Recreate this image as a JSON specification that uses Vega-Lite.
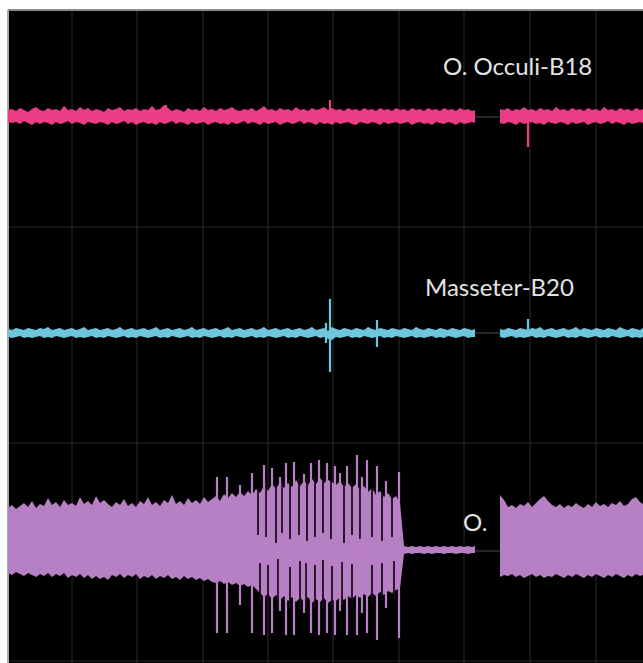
{
  "$schema": "https://vega.github.io/schema/vega-lite/v6.json",
  "width": 635,
  "height": 653,
  "autosize": {"type": "none"},
  "padding": {"left": 8, "top": 10, "right": 0, "bottom": 0},
  "background": "white",
  "config": {
    "view": {"fill": "black", "stroke": null}
  },
  "datasets": {
    "sig": [
      {"t":0,"seg":1,"ph":553,"pl":541,"bh":334,"bl":326,"oh":155,"ol":90},
      {"t":4,"seg":1,"ph":554,"pl":540,"bh":333,"bl":325,"oh":158,"ol":88},
      {"t":8,"seg":1,"ph":552,"pl":541,"bh":335,"bl":326,"oh":154,"ol":91},
      {"t":12,"seg":1,"ph":555,"pl":539,"bh":334,"bl":327,"oh":157,"ol":89},
      {"t":16,"seg":1,"ph":553,"pl":542,"bh":333,"bl":325,"oh":160,"ol":87},
      {"t":20,"seg":1,"ph":551,"pl":540,"bh":335,"bl":326,"oh":156,"ol":90},
      {"t":24,"seg":1,"ph":554,"pl":538,"bh":334,"bl":325,"oh":162,"ol":88},
      {"t":28,"seg":1,"ph":556,"pl":541,"bh":333,"bl":326,"oh":155,"ol":86},
      {"t":32,"seg":1,"ph":553,"pl":539,"bh":335,"bl":327,"oh":159,"ol":89},
      {"t":36,"seg":1,"ph":552,"pl":541,"bh":334,"bl":325,"oh":157,"ol":87},
      {"t":40,"seg":1,"ph":555,"pl":540,"bh":336,"bl":326,"oh":165,"ol":90},
      {"t":44,"seg":1,"ph":553,"pl":538,"bh":333,"bl":325,"oh":158,"ol":86},
      {"t":48,"seg":1,"ph":554,"pl":541,"bh":334,"bl":327,"oh":161,"ol":89},
      {"t":52,"seg":1,"ph":552,"pl":539,"bh":335,"bl":326,"oh":156,"ol":87},
      {"t":56,"seg":1,"ph":557,"pl":540,"bh":333,"bl":325,"oh":163,"ol":90},
      {"t":60,"seg":1,"ph":553,"pl":542,"bh":334,"bl":326,"oh":158,"ol":85},
      {"t":64,"seg":1,"ph":554,"pl":539,"bh":335,"bl":327,"oh":160,"ol":88},
      {"t":68,"seg":1,"ph":552,"pl":541,"bh":333,"bl":325,"oh":157,"ol":86},
      {"t":72,"seg":1,"ph":556,"pl":540,"bh":334,"bl":326,"oh":166,"ol":89},
      {"t":76,"seg":1,"ph":553,"pl":538,"bh":336,"bl":325,"oh":159,"ol":85},
      {"t":80,"seg":1,"ph":555,"pl":541,"bh":333,"bl":326,"oh":162,"ol":88},
      {"t":84,"seg":1,"ph":552,"pl":540,"bh":334,"bl":327,"oh":158,"ol":84},
      {"t":88,"seg":1,"ph":554,"pl":539,"bh":335,"bl":325,"oh":167,"ol":87},
      {"t":92,"seg":1,"ph":553,"pl":541,"bh":333,"bl":326,"oh":160,"ol":84},
      {"t":96,"seg":1,"ph":551,"pl":540,"bh":334,"bl":325,"oh":163,"ol":86},
      {"t":100,"seg":1,"ph":555,"pl":538,"bh":335,"bl":327,"oh":159,"ol":83},
      {"t":104,"seg":1,"ph":553,"pl":541,"bh":333,"bl":326,"oh":156,"ol":88},
      {"t":108,"seg":1,"ph":554,"pl":539,"bh":334,"bl":325,"oh":161,"ol":86},
      {"t":112,"seg":1,"ph":556,"pl":540,"bh":336,"bl":326,"oh":158,"ol":89},
      {"t":116,"seg":1,"ph":552,"pl":542,"bh":333,"bl":327,"oh":164,"ol":85},
      {"t":120,"seg":1,"ph":554,"pl":539,"bh":334,"bl":325,"oh":157,"ol":88},
      {"t":124,"seg":1,"ph":553,"pl":541,"bh":335,"bl":326,"oh":160,"ol":86},
      {"t":128,"seg":1,"ph":555,"pl":538,"bh":333,"bl":325,"oh":156,"ol":89},
      {"t":132,"seg":1,"ph":552,"pl":540,"bh":334,"bl":327,"oh":162,"ol":84},
      {"t":136,"seg":1,"ph":554,"pl":541,"bh":335,"bl":326,"oh":159,"ol":87},
      {"t":140,"seg":1,"ph":553,"pl":539,"bh":333,"bl":325,"oh":166,"ol":85},
      {"t":144,"seg":1,"ph":557,"pl":540,"bh":334,"bl":326,"oh":158,"ol":88},
      {"t":148,"seg":1,"ph":553,"pl":538,"bh":336,"bl":327,"oh":161,"ol":84},
      {"t":152,"seg":1,"ph":554,"pl":541,"bh":333,"bl":325,"oh":157,"ol":87},
      {"t":156,"seg":1,"ph":558,"pl":539,"bh":334,"bl":326,"oh":163,"ol":85},
      {"t":160,"seg":1,"ph":555,"pl":540,"bh":335,"bl":325,"oh":160,"ol":88},
      {"t":164,"seg":1,"ph":552,"pl":542,"bh":333,"bl":327,"oh":168,"ol":84},
      {"t":168,"seg":1,"ph":554,"pl":539,"bh":334,"bl":326,"oh":159,"ol":86},
      {"t":172,"seg":1,"ph":553,"pl":541,"bh":335,"bl":325,"oh":162,"ol":83},
      {"t":176,"seg":1,"ph":551,"pl":540,"bh":333,"bl":326,"oh":158,"ol":87},
      {"t":180,"seg":1,"ph":555,"pl":538,"bh":334,"bl":327,"oh":165,"ol":84},
      {"t":184,"seg":1,"ph":553,"pl":541,"bh":336,"bl":325,"oh":160,"ol":86},
      {"t":188,"seg":1,"ph":554,"pl":539,"bh":333,"bl":326,"oh":163,"ol":83},
      {"t":192,"seg":1,"ph":552,"pl":540,"bh":334,"bl":325,"oh":159,"ol":85},
      {"t":196,"seg":1,"ph":556,"pl":541,"bh":335,"bl":327,"oh":166,"ol":82},
      {"t":200,"seg":1,"ph":553,"pl":538,"bh":333,"bl":326,"oh":161,"ol":84},
      {"t":204,"seg":1,"ph":554,"pl":540,"bh":334,"bl":325,"oh":164,"ol":81},
      {"t":208,"seg":1,"ph":552,"pl":541,"bh":335,"bl":326,"oh":167,"ol":80},
      {"t":212,"seg":1,"ph":555,"pl":539,"bh":333,"bl":327,"oh":162,"ol":82},
      {"t":216,"seg":1,"ph":553,"pl":540,"bh":334,"bl":325,"oh":169,"ol":79},
      {"t":220,"seg":1,"ph":554,"pl":538,"bh":336,"bl":326,"oh":165,"ol":81},
      {"t":224,"seg":1,"ph":556,"pl":541,"bh":333,"bl":325,"oh":170,"ol":78},
      {"t":228,"seg":1,"ph":553,"pl":539,"bh":334,"bl":327,"oh":166,"ol":80},
      {"t":232,"seg":1,"ph":552,"pl":540,"bh":335,"bl":326,"oh":171,"ol":77},
      {"t":236,"seg":1,"ph":554,"pl":542,"bh":333,"bl":325,"oh":167,"ol":79},
      {"t":240,"seg":1,"ph":553,"pl":539,"bh":334,"bl":326,"oh":172,"ol":76},
      {"t":244,"seg":1,"ph":555,"pl":541,"bh":335,"bl":327,"oh":168,"ol":78},
      {"t":248,"seg":1,"ph":552,"pl":540,"bh":333,"bl":325,"oh":174,"ol":74},
      {"t":252,"seg":1,"ph":554,"pl":538,"bh":334,"bl":326,"oh":170,"ol":70},
      {"t":256,"seg":1,"ph":557,"pl":541,"bh":336,"bl":325,"oh":177,"ol":66},
      {"t":260,"seg":1,"ph":553,"pl":539,"bh":333,"bl":327,"oh":172,"ol":69},
      {"t":264,"seg":1,"ph":554,"pl":540,"bh":334,"bl":326,"oh":179,"ol":64},
      {"t":268,"seg":1,"ph":552,"pl":541,"bh":335,"bl":325,"oh":174,"ol":68},
      {"t":272,"seg":1,"ph":555,"pl":538,"bh":333,"bl":326,"oh":181,"ol":63},
      {"t":276,"seg":1,"ph":553,"pl":540,"bh":334,"bl":327,"oh":175,"ol":67},
      {"t":280,"seg":1,"ph":554,"pl":541,"bh":335,"bl":325,"oh":180,"ol":62},
      {"t":284,"seg":1,"ph":552,"pl":539,"bh":333,"bl":326,"oh":176,"ol":66},
      {"t":288,"seg":1,"ph":556,"pl":540,"bh":334,"bl":325,"oh":183,"ol":61},
      {"t":292,"seg":1,"ph":553,"pl":542,"bh":335,"bl":327,"oh":177,"ol":65},
      {"t":296,"seg":1,"ph":554,"pl":539,"bh":333,"bl":326,"oh":182,"ol":62},
      {"t":300,"seg":1,"ph":552,"pl":541,"bh":334,"bl":325,"oh":178,"ol":66},
      {"t":304,"seg":1,"ph":555,"pl":540,"bh":336,"bl":326,"oh":184,"ol":60},
      {"t":308,"seg":1,"ph":553,"pl":538,"bh":333,"bl":327,"oh":179,"ol":64},
      {"t":312,"seg":1,"ph":554,"pl":541,"bh":334,"bl":325,"oh":185,"ol":61},
      {"t":316,"seg":1,"ph":556,"pl":539,"bh":335,"bl":326,"oh":180,"ol":65},
      {"t":320,"seg":1,"ph":553,"pl":540,"bh":332,"bl":324,"oh":183,"ol":60},
      {"t":324,"seg":1,"ph":555,"pl":538,"bh":336,"bl":323,"oh":181,"ol":63},
      {"t":328,"seg":1,"ph":553,"pl":541,"bh":334,"bl":326,"oh":178,"ol":62},
      {"t":332,"seg":1,"ph":554,"pl":539,"bh":333,"bl":325,"oh":182,"ol":66},
      {"t":336,"seg":1,"ph":552,"pl":540,"bh":335,"bl":326,"oh":176,"ol":63},
      {"t":340,"seg":1,"ph":555,"pl":541,"bh":334,"bl":327,"oh":180,"ol":67},
      {"t":344,"seg":1,"ph":553,"pl":539,"bh":333,"bl":325,"oh":175,"ol":64},
      {"t":348,"seg":1,"ph":554,"pl":538,"bh":335,"bl":326,"oh":179,"ol":68},
      {"t":352,"seg":1,"ph":552,"pl":541,"bh":334,"bl":325,"oh":173,"ol":65},
      {"t":356,"seg":1,"ph":555,"pl":540,"bh":333,"bl":327,"oh":177,"ol":69},
      {"t":360,"seg":1,"ph":553,"pl":539,"bh":336,"bl":326,"oh":171,"ol":66},
      {"t":364,"seg":1,"ph":554,"pl":541,"bh":334,"bl":325,"oh":175,"ol":70},
      {"t":368,"seg":1,"ph":552,"pl":540,"bh":333,"bl":326,"oh":168,"ol":67},
      {"t":372,"seg":1,"ph":555,"pl":538,"bh":335,"bl":327,"oh":172,"ol":71},
      {"t":376,"seg":1,"ph":553,"pl":541,"bh":334,"bl":325,"oh":166,"ol":68},
      {"t":380,"seg":1,"ph":554,"pl":539,"bh":333,"bl":326,"oh":170,"ol":72},
      {"t":384,"seg":1,"ph":552,"pl":540,"bh":335,"bl":325,"oh":164,"ol":70},
      {"t":388,"seg":1,"ph":555,"pl":541,"bh":334,"bl":327,"oh":167,"ol":73},
      {"t":392,"seg":1,"ph":553,"pl":539,"bh":333,"bl":326,"oh":160,"ol":75},
      {"t":396,"seg":1,"ph":554,"pl":540,"bh":335,"bl":325,"oh":117,"ol":109},
      {"t":400,"seg":1,"ph":552,"pl":541,"bh":334,"bl":326,"oh":116,"ol":110},
      {"t":404,"seg":1,"ph":555,"pl":538,"bh":333,"bl":327,"oh":117,"ol":109},
      {"t":408,"seg":1,"ph":553,"pl":540,"bh":336,"bl":325,"oh":116,"ol":110},
      {"t":412,"seg":1,"ph":554,"pl":541,"bh":334,"bl":326,"oh":117,"ol":110},
      {"t":416,"seg":1,"ph":552,"pl":539,"bh":333,"bl":325,"oh":116,"ol":109},
      {"t":420,"seg":1,"ph":555,"pl":540,"bh":335,"bl":326,"oh":117,"ol":110},
      {"t":424,"seg":1,"ph":553,"pl":538,"bh":334,"bl":327,"oh":116,"ol":109},
      {"t":428,"seg":1,"ph":554,"pl":541,"bh":333,"bl":325,"oh":117,"ol":110},
      {"t":432,"seg":1,"ph":552,"pl":540,"bh":335,"bl":326,"oh":116,"ol":110},
      {"t":436,"seg":1,"ph":555,"pl":539,"bh":334,"bl":325,"oh":117,"ol":109},
      {"t":440,"seg":1,"ph":553,"pl":541,"bh":333,"bl":327,"oh":116,"ol":110},
      {"t":444,"seg":1,"ph":554,"pl":540,"bh":335,"bl":326,"oh":117,"ol":110},
      {"t":448,"seg":1,"ph":552,"pl":538,"bh":334,"bl":325,"oh":116,"ol":109},
      {"t":452,"seg":1,"ph":555,"pl":541,"bh":333,"bl":326,"oh":117,"ol":110},
      {"t":456,"seg":1,"ph":553,"pl":539,"bh":335,"bl":327,"oh":116,"ol":110},
      {"t":460,"seg":1,"ph":554,"pl":540,"bh":334,"bl":325,"oh":117,"ol":109},
      {"t":464,"seg":1,"ph":552,"pl":541,"bh":333,"bl":326,"oh":116,"ol":110},
      {"t":467,"seg":1,"ph":553,"pl":540,"bh":334,"bl":326,"oh":117,"ol":110},
      {"t":492,"seg":2,"ph":554,"pl":540,"bh":334,"bl":326,"oh":168,"ol":86},
      {"t":496,"seg":2,"ph":553,"pl":539,"bh":333,"bl":325,"oh":163,"ol":88},
      {"t":500,"seg":2,"ph":555,"pl":541,"bh":335,"bl":326,"oh":156,"ol":87},
      {"t":504,"seg":2,"ph":552,"pl":540,"bh":334,"bl":327,"oh":158,"ol":89},
      {"t":508,"seg":2,"ph":554,"pl":538,"bh":333,"bl":325,"oh":155,"ol":86},
      {"t":512,"seg":2,"ph":553,"pl":541,"bh":335,"bl":326,"oh":159,"ol":88},
      {"t":516,"seg":2,"ph":556,"pl":539,"bh":334,"bl":325,"oh":157,"ol":85},
      {"t":520,"seg":2,"ph":553,"pl":540,"bh":333,"bl":326,"oh":161,"ol":87},
      {"t":524,"seg":2,"ph":554,"pl":541,"bh":335,"bl":327,"oh":156,"ol":89},
      {"t":528,"seg":2,"ph":552,"pl":539,"bh":334,"bl":325,"oh":160,"ol":86},
      {"t":532,"seg":2,"ph":555,"pl":540,"bh":336,"bl":326,"oh":164,"ol":88},
      {"t":536,"seg":2,"ph":553,"pl":538,"bh":333,"bl":325,"oh":167,"ol":85},
      {"t":540,"seg":2,"ph":554,"pl":541,"bh":334,"bl":327,"oh":162,"ol":87},
      {"t":544,"seg":2,"ph":552,"pl":540,"bh":335,"bl":326,"oh":158,"ol":86},
      {"t":548,"seg":2,"ph":556,"pl":539,"bh":333,"bl":325,"oh":156,"ol":89},
      {"t":552,"seg":2,"ph":553,"pl":541,"bh":334,"bl":326,"oh":159,"ol":87},
      {"t":556,"seg":2,"ph":554,"pl":540,"bh":335,"bl":327,"oh":155,"ol":85},
      {"t":560,"seg":2,"ph":552,"pl":538,"bh":333,"bl":325,"oh":158,"ol":88},
      {"t":564,"seg":2,"ph":555,"pl":541,"bh":334,"bl":326,"oh":156,"ol":86},
      {"t":568,"seg":2,"ph":553,"pl":539,"bh":336,"bl":325,"oh":160,"ol":89},
      {"t":572,"seg":2,"ph":554,"pl":540,"bh":333,"bl":327,"oh":157,"ol":87},
      {"t":576,"seg":2,"ph":552,"pl":541,"bh":335,"bl":326,"oh":155,"ol":85},
      {"t":580,"seg":2,"ph":555,"pl":538,"bh":334,"bl":325,"oh":159,"ol":88},
      {"t":584,"seg":2,"ph":553,"pl":540,"bh":333,"bl":326,"oh":156,"ol":86},
      {"t":588,"seg":2,"ph":554,"pl":541,"bh":335,"bl":327,"oh":161,"ol":89},
      {"t":592,"seg":2,"ph":552,"pl":539,"bh":334,"bl":325,"oh":157,"ol":87},
      {"t":596,"seg":2,"ph":556,"pl":540,"bh":333,"bl":326,"oh":159,"ol":85},
      {"t":600,"seg":2,"ph":553,"pl":542,"bh":335,"bl":325,"oh":156,"ol":88},
      {"t":604,"seg":2,"ph":554,"pl":539,"bh":334,"bl":327,"oh":160,"ol":86},
      {"t":608,"seg":2,"ph":552,"pl":541,"bh":333,"bl":326,"oh":158,"ol":89},
      {"t":612,"seg":2,"ph":555,"pl":540,"bh":336,"bl":325,"oh":162,"ol":87},
      {"t":616,"seg":2,"ph":553,"pl":538,"bh":334,"bl":326,"oh":157,"ol":85},
      {"t":620,"seg":2,"ph":554,"pl":541,"bh":333,"bl":327,"oh":159,"ol":88},
      {"t":624,"seg":2,"ph":552,"pl":539,"bh":335,"bl":325,"oh":164,"ol":86},
      {"t":628,"seg":2,"ph":555,"pl":540,"bh":334,"bl":326,"oh":166,"ol":89},
      {"t":632,"seg":2,"ph":553,"pl":541,"bh":333,"bl":325,"oh":161,"ol":87},
      {"t":635,"seg":2,"ph":554,"pl":540,"bh":335,"bl":326,"oh":159,"ol":88}
    ],
    "holes": [
      {"t":250,"hi":176,"lo":128},{"t":258,"hi":180,"lo":126},{"t":268,"hi":178,"lo":120},{"t":274,"hi":182,"lo":130},{"t":282,"hi":184,"lo":124},{"t":291,"hi":186,"lo":128},{"t":299,"hi":185,"lo":122},{"t":307,"hi":187,"lo":126},{"t":315,"hi":186,"lo":130},{"t":323,"hi":184,"lo":124},{"t":336,"hi":182,"lo":120},{"t":344,"hi":180,"lo":128},{"t":352,"hi":178,"lo":124},{"t":364,"hi":176,"lo":126},{"t":374,"hi":172,"lo":122},{"t":384,"hi":170,"lo":126},
      {"t":252,"hi":100,"lo":60},{"t":260,"hi":98,"lo":58},{"t":270,"hi":104,"lo":56},{"t":282,"hi":96,"lo":55},{"t":292,"hi":102,"lo":54},{"t":298,"hi":100,"lo":56},{"t":307,"hi":98,"lo":55},{"t":315,"hi":103,"lo":55},{"t":324,"hi":97,"lo":56},{"t":334,"hi":101,"lo":58},{"t":344,"hi":99,"lo":57},{"t":354,"hi":104,"lo":58},{"t":364,"hi":98,"lo":60},{"t":374,"hi":100,"lo":62},{"t":386,"hi":102,"lo":64}
    ],
    "spikes": [
      {"ch":"occ","t":158,"hi":558,"lo":541},{"ch":"occ","t":322,"hi":563,"lo":540},{"ch":"occ","t":520,"hi":545,"lo":516},
      {"ch":"mas","t":318,"hi":340,"lo":320},{"ch":"mas","t":322,"hi":364,"lo":291},{"ch":"mas","t":369,"hi":343,"lo":316},{"ch":"mas","t":520,"hi":344,"lo":327},
      {"ch":"oo","t":209,"hi":186,"lo":30},{"ch":"oo","t":219,"hi":186,"lo":30},{"ch":"oo","t":244,"hi":190,"lo":30},{"ch":"oo","t":256,"hi":198,"lo":28},{"ch":"oo","t":264,"hi":195,"lo":30},{"ch":"oo","t":278,"hi":200,"lo":28},{"ch":"oo","t":286,"hi":201,"lo":28},{"ch":"oo","t":303,"hi":200,"lo":30},{"ch":"oo","t":311,"hi":203,"lo":28},{"ch":"oo","t":319,"hi":200,"lo":30},{"ch":"oo","t":327,"hi":197,"lo":28},{"ch":"oo","t":339,"hi":197,"lo":28},{"ch":"oo","t":349,"hi":208,"lo":28},{"ch":"oo","t":359,"hi":203,"lo":30},{"ch":"oo","t":369,"hi":197,"lo":23},{"ch":"oo","t":391,"hi":191,"lo":25},
      {"ch":"oo","t":232,"hi":178,"lo":58},{"ch":"oo","t":272,"hi":186,"lo":52},{"ch":"oo","t":296,"hi":189,"lo":50},{"ch":"oo","t":332,"hi":190,"lo":52},{"ch":"oo","t":354,"hi":186,"lo":50},{"ch":"oo","t":378,"hi":182,"lo":55}
    ],
    "gaps": [
      {"t1":467,"t2":492,"v":546},{"t1":467,"t2":492,"v":330},{"t1":467,"t2":492,"v":112}
    ],
    "vgrid": [{"t":64},{"t":129},{"t":195},{"t":260},{"t":325},{"t":391},{"t":456},{"t":522},{"t":588}],
    "hgrid": [{"v":436},{"v":220},{"v":2}],
    "frameX": [{"t":0}],
    "frameY": [{"v":653}],
    "labels": [
      {"t":435,"v":595,"label":"O. Occuli-B18"},
      {"t":417,"v":374,"label":"Masseter-B20"},
      {"t":455,"v":139,"label":"O."}
    ]
  },
  "layer": [
    {
      "data": {"name": "vgrid"},
      "mark": {"type": "rule", "color": "#2c2c2c", "strokeWidth": 1},
      "encoding": {
        "x": {"field": "t", "type": "quantitative", "scale": {"domain": [0, 635], "nice": false, "zero": false}, "axis": null}
      }
    },
    {
      "data": {"name": "hgrid"},
      "mark": {"type": "rule", "color": "#2c2c2c", "strokeWidth": 1},
      "encoding": {
        "y": {"field": "v", "type": "quantitative", "scale": {"domain": [0, 653], "nice": false, "zero": false}, "axis": null}
      }
    },
    {
      "data": {"name": "frameX"},
      "mark": {"type": "rule", "color": "#a8a8a8", "strokeWidth": 2},
      "encoding": {
        "x": {"field": "t", "type": "quantitative", "axis": null}
      }
    },
    {
      "data": {"name": "frameY"},
      "mark": {"type": "rule", "color": "#8c8c8c", "strokeWidth": 2},
      "encoding": {
        "y": {"field": "v", "type": "quantitative", "axis": null}
      }
    },
    {
      "data": {"name": "gaps"},
      "mark": {"type": "rule", "color": "#4a4a4a", "strokeWidth": 1},
      "encoding": {
        "x": {"field": "t1", "type": "quantitative", "axis": null},
        "x2": {"field": "t2"},
        "y": {"field": "v", "type": "quantitative", "axis": null}
      }
    },
    {
      "data": {"name": "labels"},
      "mark": {"type": "text", "align": "left", "baseline": "middle", "font": "Lato", "fontSize": 24, "color": "#e4e4e4"},
      "encoding": {
        "x": {"field": "t", "type": "quantitative", "axis": null},
        "y": {"field": "v", "type": "quantitative", "axis": null},
        "text": {"field": "label"}
      }
    },
    {
      "data": {"name": "sig"},
      "mark": {"type": "area", "color": "#ec3c86"},
      "encoding": {
        "x": {"field": "t", "type": "quantitative", "axis": null},
        "y": {"field": "ph", "type": "quantitative", "axis": null},
        "y2": {"field": "pl"},
        "detail": {"field": "seg"}
      }
    },
    {
      "data": {"name": "sig"},
      "mark": {"type": "area", "color": "#6ec6dd"},
      "encoding": {
        "x": {"field": "t", "type": "quantitative", "axis": null},
        "y": {"field": "bh", "type": "quantitative", "axis": null},
        "y2": {"field": "bl"},
        "detail": {"field": "seg"}
      }
    },
    {
      "data": {"name": "sig"},
      "mark": {"type": "area", "color": "#b77fc4"},
      "encoding": {
        "x": {"field": "t", "type": "quantitative", "axis": null},
        "y": {"field": "oh", "type": "quantitative", "axis": null},
        "y2": {"field": "ol"},
        "detail": {"field": "seg"}
      }
    },
    {
      "data": {"name": "holes"},
      "mark": {"type": "rule", "color": "#1a0d1c", "strokeWidth": 1.8},
      "encoding": {
        "x": {"field": "t", "type": "quantitative", "axis": null},
        "y": {"field": "hi", "type": "quantitative", "axis": null},
        "y2": {"field": "lo"}
      }
    },
    {
      "data": {"name": "spikes"},
      "mark": {"type": "rule", "strokeWidth": 2.2},
      "encoding": {
        "x": {"field": "t", "type": "quantitative", "axis": null},
        "y": {"field": "hi", "type": "quantitative", "axis": null},
        "y2": {"field": "lo"},
        "color": {"field": "ch", "type": "nominal", "legend": null,
                  "scale": {"domain": ["occ", "mas", "oo"], "range": ["#ec3c86", "#6ec6dd", "#b77fc4"]}}
      }
    }
  ]
}
